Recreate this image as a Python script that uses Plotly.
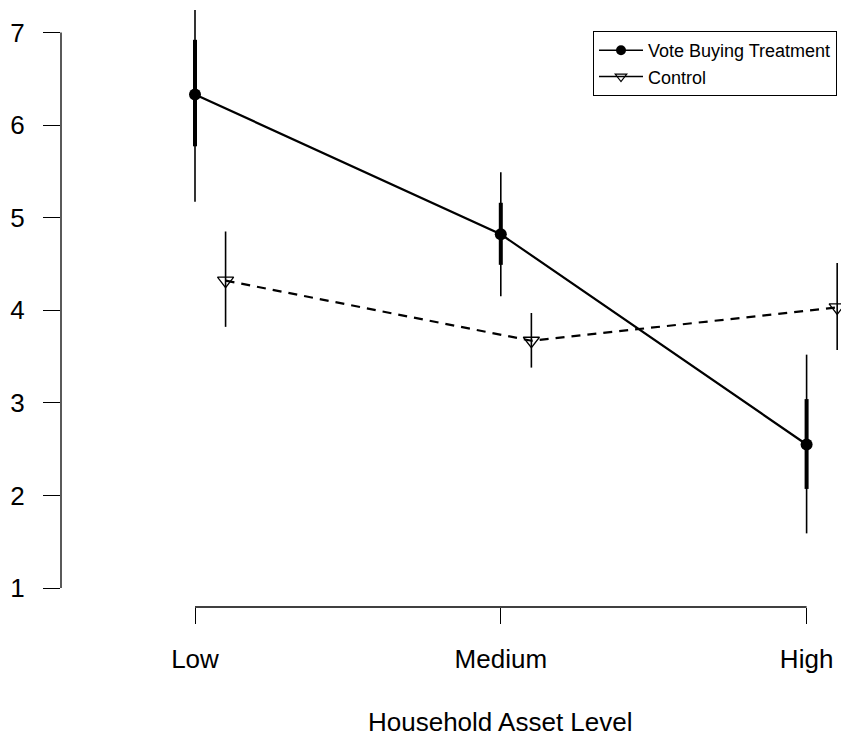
import plotly.graph_objects as go

# ---- data ----
categories = ["Low", "Medium", "High"]
treat_mean = [6.33, 4.82, 2.55]
treat_ci_low = [5.17, 4.15, 1.59]
treat_ci_high = [7.50, 5.49, 3.52]
treat_se_low = [5.77, 4.49, 2.07]
treat_se_high = [6.92, 5.16, 3.04]
control_mean = [4.32, 3.67, 4.03]
control_ci_low = [3.82, 3.38, 3.57]
control_ci_high = [4.85, 3.97, 4.51]
y_ticks = [1, 2, 3, 4, 5, 6, 7]
x_title = "Household Asset Level"
treat_name = "Vote Buying Treatment"
control_name = "Control"

# ---- style ----
FONT = "Liberation Sans, Arial, Helvetica, sans-serif"
OFFSET = 0.1
W, H = 841, 738
ML, MR, MT, MB = 61, 0, 10, 131

x_pos = [i + 1 for i in range(len(categories))]
x_ctrl = [p + OFFSET for p in x_pos]


def up(hi, m):
    return [h - v for h, v in zip(hi, m)]


def dn(lo, m):
    return [v - l for l, v in zip(lo, m)]


fig = go.Figure()

# thin CI bars (treatment)
fig.add_trace(go.Scatter(
    x=x_pos, y=treat_mean, mode="markers",
    marker=dict(size=1, color="rgba(0,0,0,0)"),
    error_y=dict(type="data", symmetric=False,
                 array=up(treat_ci_high, treat_mean),
                 arrayminus=dn(treat_ci_low, treat_mean),
                 thickness=1.6, width=0, color="black"),
    showlegend=False, hoverinfo="skip"))
# thick bars (treatment)
fig.add_trace(go.Scatter(
    x=x_pos, y=treat_mean, mode="markers",
    marker=dict(size=1, color="rgba(0,0,0,0)"),
    error_y=dict(type="data", symmetric=False,
                 array=up(treat_se_high, treat_mean),
                 arrayminus=dn(treat_se_low, treat_mean),
                 thickness=4, width=0, color="black"),
    showlegend=False, hoverinfo="skip"))
# thin CI bars (control)
fig.add_trace(go.Scatter(
    x=x_ctrl, y=control_mean, mode="markers",
    marker=dict(size=1, color="rgba(0,0,0,0)"),
    error_y=dict(type="data", symmetric=False,
                 array=up(control_ci_high, control_mean),
                 arrayminus=dn(control_ci_low, control_mean),
                 thickness=1.6, width=0, color="black"),
    showlegend=False, hoverinfo="skip"))

# treatment line
fig.add_trace(go.Scatter(
    x=x_pos, y=treat_mean, mode="lines+markers",
    line=dict(color="black", width=2.2),
    marker=dict(symbol="circle", size=12, color="black"),
    showlegend=False))
# control line
fig.add_trace(go.Scatter(
    x=x_ctrl, y=control_mean, mode="lines+markers",
    line=dict(color="black", width=2.2, dash="9px,7px"),
    marker=dict(symbol="triangle-down-open", size=14, color="black",
                line=dict(width=1.3, color="black")),
    showlegend=False))

# legend-only entries (solid line samples as in the reference)
fig.add_trace(go.Scatter(
    x=[None], y=[None], mode="lines+markers", name=treat_name,
    line=dict(color="black", width=1.5),
    marker=dict(symbol="circle", size=10, color="black")))
fig.add_trace(go.Scatter(
    x=[None], y=[None], mode="lines+markers", name=control_name,
    line=dict(color="black", width=1.5),
    marker=dict(symbol="triangle-down-open", size=10, color="black",
                line=dict(width=1.2, color="black"))))

# partial axis lines (R style)
fig.add_shape(type="line", xref="x", yref="paper",
              x0=x_pos[0], x1=x_pos[-1], y0=0, y1=0,
              line=dict(color="black", width=1.3))
fig.add_shape(type="line", xref="paper", yref="y",
              x0=0, x1=0, y0=y_ticks[0], y1=y_ticks[-1],
              line=dict(color="black", width=1.3))

# axis ranges chosen from pixel layout
px_per_x = 305.8
px_per_y = 92.6
plot_w = W - ML - MR
plot_h = H - MT - MB
x_left = 1 + (ML - 195) / px_per_x
x_right = x_left + plot_w / px_per_x
y_top = 1 + (588 - MT) / px_per_y
y_bot = y_top - plot_h / px_per_y

fig.update_layout(
    width=W, height=H,
    margin=dict(l=ML, r=MR, t=MT, b=MB, pad=0),
    paper_bgcolor="white", plot_bgcolor="white",
    font=dict(family=FONT, color="black", size=26),
    xaxis=dict(range=[x_left, x_right], tickvals=x_pos, ticktext=categories,
               showgrid=False, zeroline=False, showline=False,
               ticks="outside", ticklen=16, tickwidth=1.3, tickcolor="black",
               ticklabelstandoff=13,
               tickfont=dict(size=26, family=FONT, color="black")),
    yaxis=dict(range=[y_bot, y_top], tickvals=y_ticks,
               showgrid=False, zeroline=False, showline=False,
               ticks="outside", ticklen=17, tickwidth=1.3, tickcolor="black",
               ticklabelstandoff=13,
               tickfont=dict(size=26, family=FONT, color="black")),
    legend=dict(x=(837 - ML) / plot_w, xanchor="right",
                y=(H - MB - 31) / plot_h, yanchor="top",
                bordercolor="black", borderwidth=1, bgcolor="white",
                font=dict(size=18, family=FONT, color="black"),
                tracegroupgap=0, itemwidth=44),
    annotations=[dict(text=x_title, xref="paper", yref="paper",
                      x=(500 - ML) / plot_w, y=-(722 - (H - MB)) / plot_h,
                      xanchor="center", yanchor="middle", showarrow=False,
                      font=dict(size=26, family=FONT, color="black"))],
)

fig.write_html("out.html")
